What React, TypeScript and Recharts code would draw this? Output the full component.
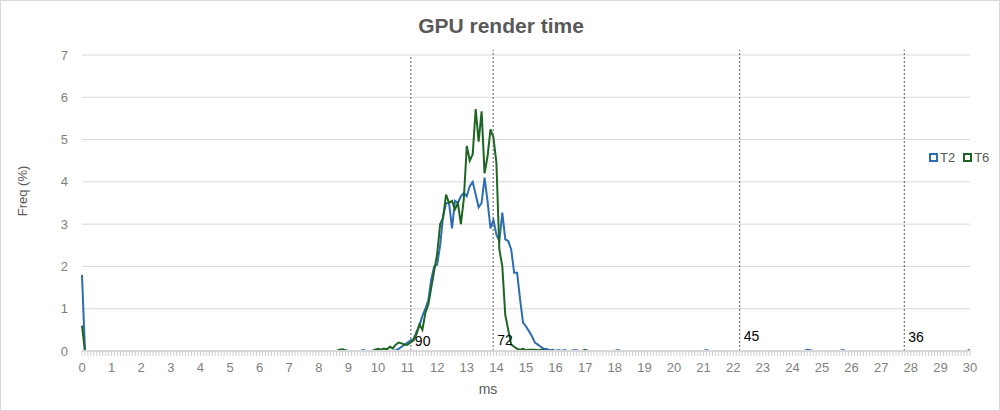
import { LineChart, Line, XAxis, YAxis, CartesianGrid, ReferenceLine } from 'recharts';

// bins are 0.1 ms wide, 0 .. 30 ms
const BIN_COUNT = 301;

// T2: values from 10.6 ms to 16.7 ms
const T2_START = 10.6;
const T2_VALUES = [
  0.02, 0.05, 0.1, 0.15, 0.2, 0.25, 0.28, 0.45, 0.6, 0.83, // 10.6 - 11.5
  1.0, 1.2, 1.7, 2.0, 2.05, 2.5, 3.2, 3.5, 3.5, 2.9, // 11.6 - 12.5
  3.55, 3.5, 3.66, 3.74, 3.66, 3.9, 4.0, 3.7, 3.4, 3.5, // 12.6 - 13.5
  4.1, 3.55, 2.9, 3.1, 2.75, 2.6, 3.27, 2.64, 2.6, 2.4, // 13.6 - 14.5
  1.85, 1.85, 1.22, 0.67, 0.58, 0.47, 0.35, 0.2, 0.15, 0.1, // 14.6 - 15.5
  0.05, 0.05, 0.02, 0.03, 0, 0.02, 0, 0.02, 0, 0, // 15.6 - 16.5
  0.02, 0.02, // 16.6 - 16.7
];
// isolated T2 bins outside that range: [ms, freq]
const T2_OTHER: [number, number][] = [
  [0, 1.8], [9.5, 0.02], [18.1, 0.02], [21.1, 0.02], [24.5, 0.03], [24.6, 0.02], [25.7, 0.02], [30, 0.03],
];

// T6: values from 8.7 ms to 15.6 ms
const T6_START = 8.7;
const T6_VALUES = [
  0.03, 0.04, 0.02, 0, 0, 0, 0, 0, 0, 0, // 8.7 - 9.6
  0, 0, 0.03, 0.05, 0.03, 0.06, 0.04, 0.1, 0.06, 0.15, // 9.7 - 10.6
  0.2, 0.18, 0.15, 0.15, 0.2, 0.25, 0.4, 0.63, 0.5, 0.9, // 10.7 - 11.6
  1.1, 1.5, 1.9, 2.3, 3.0, 3.15, 3.7, 3.5, 3.55, 3.35, // 11.7 - 12.6
  3.5, 3.0, 3.6, 4.85, 4.5, 4.65, 5.72, 4.95, 5.67, 4.2, // 12.7 - 13.6
  4.6, 5.24, 5.05, 4.45, 2.4, 2.0, 0.85, 0.5, 0.15, 0.1, // 13.7 - 14.6
  0.05, 0.03, 0.05, 0.02, 0.03, 0.03, 0.03, 0.02, 0.03, 0.02, // 14.7 - 15.6
];
const T6_OTHER: [number, number][] = [[0, 0.6], [17.0, 0.03]];

// frame-rate thresholds (fps -> ms per frame)
const FPS_LABELS = ['90', '72', '45', '36'];
const FPS_MS = [11.11, 13.89, 22.22, 27.78];
const FPS_TOP = [7, 7.12, 7.12, 7.12];
const FPS_LABEL_LIFT = [10, 11, 15, 14];

const Y_TICKS = [0, 1, 2, 3, 4, 5, 6, 7];

const SERIES = [
  { key: 'T2', color: '#2e6db4' },
  { key: 'T6', color: '#1e6524' },
];

const binIndex = (ms: number) => Math.round(ms * 10);

const rows: { t: number; T2: number; T6: number }[] = [];
for (let i = 0; i < BIN_COUNT; i++) rows.push({ t: i / 10, T2: 0, T6: 0 });
T2_VALUES.forEach((v, i) => { rows[binIndex(T2_START) + i].T2 = v; });
T6_VALUES.forEach((v, i) => { rows[binIndex(T6_START) + i].T6 = v; });
T2_OTHER.forEach(([ms, v]) => { rows[binIndex(ms)].T2 = v; });
T6_OTHER.forEach(([ms, v]) => { rows[binIndex(ms)].T6 = v; });

const xTicks = rows.map(r => r.t);

const FONT = '"Liberation Sans", Arial, sans-serif';

const XTick = (props: any) => {
  const { x, y, payload } = props;
  const v = payload.value as number;
  const major = Math.abs(v - Math.round(v)) < 1e-6;
  return (
    <g>
      <line x1={x} x2={x} y1={y} y2={y + 5} stroke="#cfcfcf" strokeWidth={1} />
      {major && (
        <text x={x} y={y + 21} textAnchor="middle" fill="#7f7f7f" fontSize={13} fontFamily={FONT}>
          {Math.round(v)}
        </text>
      )}
    </g>
  );
};

export default function App() {
  return (
    <div
      style={{
        position: 'absolute', left: 0, top: 0, width: 1000, height: 411,
        boxSizing: 'border-box', border: '1px solid #d9d9d9', background: '#fff',
      }}
    >
      <div
        style={{
          position: 'absolute', left: 0, top: 13, width: 1000, textAlign: 'center',
          fontFamily: '"Liberation Sans Narrow", "Liberation Sans", Arial, sans-serif',
          fontWeight: 'bold', fontSize: 21, color: '#595959',
        }}
      >
        GPU render time
      </div>
      <div style={{ position: 'absolute', left: -1, top: -1 }}>
        <LineChart width={1000} height={411} data={rows} margin={{ top: 55, right: 30, bottom: 10, left: 10 }}>
          <CartesianGrid vertical={false} stroke="#d9d9d9" />
          <XAxis
            dataKey="t"
            type="number"
            domain={[0, 30]}
            ticks={xTicks}
            interval={0}
            height={50}
            tickSize={0}
            tickMargin={0}
            tickLine={false}
            axisLine={{ stroke: '#d9d9d9', strokeWidth: 2 }}
            tick={<XTick />}
            label={{
              content: (p: any) => {
                const vb = p.viewBox;
                return (
                  <text x={vb.x + vb.width / 2 - 38} y={vb.y + vb.height - 7} textAnchor="middle"
                    fill="#595959" fontSize={14} fontFamily={FONT}>
                    ms
                  </text>
                );
              },
            }}
          />
          <YAxis
            domain={[0, 7]}
            ticks={Y_TICKS}
            width={72}
            tickSize={0}
            tickMargin={14}
            axisLine={false}
            tickLine={false}
            tick={{ fill: '#7f7f7f', fontSize: 13, fontFamily: FONT }}
            label={{
              content: (p: any) => {
                const vb = p.viewBox;
                const cx = vb.x + 12;
                const cy = vb.y + vb.height / 2 - 12;
                return (
                  <text x={cx} y={cy} transform={`rotate(-90, ${cx}, ${cy})`} textAnchor="middle"
                    dominantBaseline="central" fill="#595959" fontSize={13} fontFamily={FONT}>
                    Freq (%)
                  </text>
                );
              },
            }}
          />
          {SERIES.map(s => (
            <Line
              key={s.key}
              dataKey={s.key}
              type="linear"
              stroke={s.color}
              strokeWidth={2}
              dot={false}
              activeDot={false}
              isAnimationActive={false}
            />
          ))}
          {FPS_MS.map((ms, i) => (
            <ReferenceLine
              key={FPS_LABELS[i]}
              segment={[{ x: ms, y: 0 }, { x: ms, y: FPS_TOP[i] }]}
              ifOverflow="visible"
              stroke="#595959"
              strokeDasharray="2 2"
              label={{
                content: (p: any) => {
                  const vb = p.viewBox;
                  return (
                    <text x={vb.x + 4} y={351 - FPS_LABEL_LIFT[i]} dominantBaseline="central"
                      fill="#000" fontSize={14} fontFamily={FONT}>
                      {FPS_LABELS[i]}
                    </text>
                  );
                },
              }}
            />
          ))}
        </LineChart>
      </div>
      <div
        style={{
          position: 'absolute', left: 928, top: 149, display: 'flex', gap: 8,
          fontFamily: FONT, fontSize: 13, color: '#595959',
        }}
      >
        {SERIES.map(s => (
          <div key={s.key} style={{ display: 'flex', alignItems: 'center', gap: 2 }}>
            <span style={{ width: 5, height: 5, border: `2px solid ${s.color}`, display: 'inline-block' }} />
            <span>{s.key}</span>
          </div>
        ))}
      </div>
    </div>
  );
}
